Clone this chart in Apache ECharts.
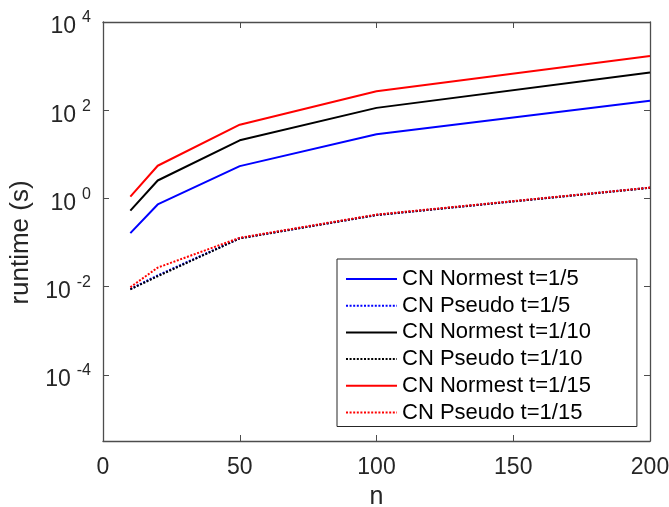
<!DOCTYPE html>
<html>
<head>
<meta charset="utf-8">
<script src="https://cdn.jsdelivr.net/npm/echarts@6/dist/echarts.min.js"></script>
<style>html,body{margin:0;padding:0;background:#fff}#c{width:669px;height:507px}</style>
</head>
<body>
<div id="c"></div>
<script>
// ---- data ----
const nValues = [10, 20, 50, 100, 200];
const normest5 = [0.163, 0.73, 5.4, 28.5, 163];
const pseudo5 = [0.0088, 0.018, 0.125, 0.42, 1.75];
const normest10 = [0.53, 2.55, 20.8, 113, 720];
const pseudo10 = [0.0087, 0.0172, 0.124, 0.42, 1.74];
const normest15 = [1.1, 5.5, 47, 270, 1690];
const pseudo15 = [0.0097, 0.027, 0.128, 0.43, 1.76];
const seriesNames = ['CN Normest t=1/5', 'CN Pseudo t=1/5', 'CN Normest t=1/10', 'CN Pseudo t=1/10', 'CN Normest t=1/15', 'CN Pseudo t=1/15'];
const xTicks = [0, 50, 100, 150, 200];
const yTicks = [1e-4, 1e-2, 1, 1e2, 1e4];

const FONT = 'Liberation Sans, Arial, Helvetica, sans-serif';
const AX = '#4d4d4d';
const pairs = v => nValues.map((n, i) => [n, v[i]]);

function line(name, data, color, dotted) {
  return {
    name, type: 'line', data: pairs(data), symbol: 'none',
    xAxisIndex: 0, yAxisIndex: 0,
    lineStyle: { color, width: 2, type: dotted ? [2, 1.6] : 'solid' },
    itemStyle: { color },
    emphasis: { disabled: true }, animation: false
  };
}

const yMin = Math.pow(10, -5.5), yMax = 1e4;
const chart = echarts.init(document.getElementById('c'));
chart.setOption({
  animation: false,
  backgroundColor: '#fff',
  textStyle: { fontFamily: FONT },
  grid: { left: 103, right: 19, top: 22, bottom: 66, containLabel: false, outerBoundsMode: 'none' },
  legend: {
    orient: 'vertical', left: 337, top: 259,
    data: seriesNames,
    itemWidth: 51, itemHeight: 14, itemGap: 4.7,
    padding: [9, 46, 3, 8],
    borderColor: '#262626', borderWidth: 1, backgroundColor: '#fff',
    itemStyle: { color: 'rgba(0,0,0,0)', borderWidth: 0, opacity: 0 },
    textStyle: { fontSize: 22, color: '#000', fontFamily: FONT },
    selectedMode: false
  },
  xAxis: [
    {
      type: 'value', min: 0, max: 200, interval: 50, position: 'bottom',
      name: 'n', nameLocation: 'middle', nameGap: 44,
      nameTextStyle: { fontSize: 25, color: '#262626', fontFamily: FONT },
      axisLine: { onZero: false, lineStyle: { color: AX, width: 1.3 } },
      axisTick: { inside: true, length: 6, lineStyle: { color: AX } },
      axisLabel: { fontSize: 23, color: '#262626', margin: 15, fontFamily: FONT,
        customValues: xTicks },
      splitLine: { show: false }
    },
    {
      type: 'value', min: 0, max: 200, interval: 50, position: 'top',
      axisLine: { onZero: false, lineStyle: { color: AX, width: 1.3 } },
      axisTick: { inside: true, length: 6, lineStyle: { color: AX } },
      axisLabel: { show: false }, splitLine: { show: false }
    }
  ],
  yAxis: [
    {
      type: 'log', logBase: 10, min: yMin, max: yMax, position: 'left',
      name: 'runtime (s)', nameLocation: 'middle', nameGap: 68,
      nameTextStyle: { fontSize: 26, color: '#262626', fontFamily: FONT, padding: [0, 22, 0, 0] },
      axisLine: { onZero: false, lineStyle: { color: AX, width: 1.3 } },
      axisTick: { inside: true, length: 6, lineStyle: { color: AX }, customValues: yTicks },
      minorTick: { show: false },
      axisLabel: {
        customValues: yTicks, margin: 12, color: '#262626', fontFamily: FONT,
        formatter: v => {
          const k = String(Math.round(Math.log10(v)));
          return '{b|10}{s|' + k + '}';
        },
        rich: {
          b: { fontSize: 23, color: '#262626', fontFamily: FONT, padding: [10, 0, 0, 0] },
          s: { fontSize: 16, color: '#262626', fontFamily: FONT, padding: [0, 0, 8, 6] }
        }
      },
      splitLine: { show: false }
    },
    {
      type: 'log', logBase: 10, min: yMin, max: yMax, position: 'right',
      axisLine: { onZero: false, lineStyle: { color: AX, width: 1.3 } },
      axisTick: { inside: true, length: 6, lineStyle: { color: AX }, customValues: yTicks },
      axisLabel: { show: false }, splitLine: { show: false }
    }
  ],
  series: [
    line(seriesNames[0], normest5, '#0000ff', false),
    line(seriesNames[1], pseudo5, '#0000ff', true),
    line(seriesNames[2], normest10, '#000000', false),
    line(seriesNames[3], pseudo10, '#000000', true),
    line(seriesNames[4], normest15, '#ff0000', false),
    line(seriesNames[5], pseudo15, '#ff0000', true)
  ]
});
</script>
</body>
</html>
